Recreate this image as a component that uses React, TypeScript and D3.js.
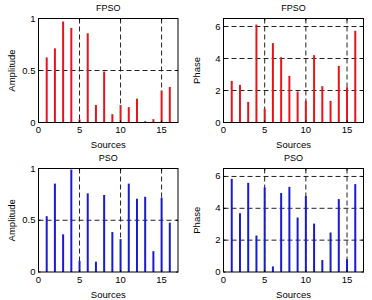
import React from "react";
import * as d3 from "d3";

const sources = [1, 2, 3, 4, 5, 6, 7, 8, 9, 10, 11, 12, 13, 14, 15, 16];
const fpsoAmplitude = [0.626, 0.713, 0.971, 0.91, 0.03, 0.858, 0.168, 0.49, 0.08, 0.168, 0.148, 0.229, 0.013, 0.032, 0.306, 0.342];
const fpsoPhase = [2.6, 2.35, 1.29, 6.12, 0.85, 4.96, 4.08, 2.92, 1.94, 1.35, 4.21, 2.27, 1.35, 3.54, 2.2, 5.73];
const psoAmplitude = [0.539, 0.854, 0.364, 0.99, 0.107, 0.76, 0.1, 0.744, 0.386, 0.318, 0.854, 0.708, 0.727, 0.201, 0.718, 0.477];
const psoPhase = [5.85, 3.69, 5.6, 2.29, 5.31, 0.35, 4.96, 5.35, 3.42, 4.77, 3.04, 0.75, 2.48, 4.58, 0.81, 5.52];

const xTicks = [0, 5, 10, 15];
const xGrid = [5, 10, 15];
const ampTicks = [0, 0.5, 1];
const ampTickLabels = ["0", "0.5", "1"];
const ampGrid = [0.5];
const phaseTicks = [0, 2, 4, 6];
const phaseTickLabels = ["0", "2", "4", "6"];
const phaseGrid = [2, 4, 6];

const FONT = "Liberation Sans, Arial, Helvetica, sans-serif";

type PanelProps = {
  x0: number; y0: number; w: number; h: number;
  title: string; ylabel: string; values: number[]; color: string;
  yMax: number; yTicks: number[]; yTickLabels: string[]; yGrid: number[];
};

function Panel(p: PanelProps) {
  const x = d3.scaleLinear().domain([0, 17]).range([p.x0, p.x0 + p.w]);
  const y = d3.scaleLinear().domain([0, p.yMax]).range([p.y0 + p.h, p.y0]);
  const tl = 2;
  return (
    <g>
      {xGrid.map((t) => (
        <line key={"gx" + t} x1={x(t)} x2={x(t)} y1={p.y0} y2={p.y0 + p.h} stroke="#222" strokeWidth={1} strokeDasharray="5,3" />
      ))}
      {p.yGrid.map((t) => (
        <line key={"gy" + t} x1={p.x0} x2={p.x0 + p.w} y1={y(t)} y2={y(t)} stroke="#222" strokeWidth={1} strokeDasharray="5,3" />
      ))}
      {p.values.map((v, i) => (
        <line key={"s" + i} x1={x(sources[i])} x2={x(sources[i])} y1={y(0)} y2={y(v)} stroke={p.color} strokeWidth={2} />
      ))}
      <rect x={p.x0} y={p.y0} width={p.w} height={p.h} fill="none" stroke="#000" strokeWidth={1} />
      {xTicks.map((t) => (
        <g key={"xt" + t}>
          <line x1={x(t)} x2={x(t)} y1={p.y0 + p.h} y2={p.y0 + p.h - tl} stroke="#000" />
          <line x1={x(t)} x2={x(t)} y1={p.y0} y2={p.y0 + tl} stroke="#000" />
          <text x={x(t)} y={p.y0 + p.h + 10.5} fontSize={9.5} fontFamily={FONT} textAnchor="middle">{t}</text>
        </g>
      ))}
      {p.yTicks.map((t, i) => (
        <g key={"yt" + t}>
          <line x1={p.x0} x2={p.x0 + tl} y1={y(t)} y2={y(t)} stroke="#000" />
          <line x1={p.x0 + p.w} x2={p.x0 + p.w - tl} y1={y(t)} y2={y(t)} stroke="#000" />
          <text x={p.x0 - 3} y={y(t) + 3} fontSize={9.5} fontFamily={FONT} textAnchor="end">{p.yTickLabels[i]}</text>
        </g>
      ))}
      <text x={p.x0 + p.w / 2} y={p.y0 - 8} fontSize={9} fontFamily={FONT} textAnchor="middle">{p.title}</text>
      <text x={p.x0 + p.w / 2} y={p.y0 + p.h + 25.5} fontSize={9.5} fontFamily={FONT} textAnchor="middle">Sources</text>
      <text transform={`translate(${p.x0 - 24},${p.y0 + p.h / 2}) rotate(-90)`} fontSize={9.5} fontFamily={FONT} textAnchor="middle">{p.ylabel}</text>
    </g>
  );
}

export default function App() {
  return (
    <div style={{ position: "fixed", left: 0, top: 0 }}>
      <svg width={372} height={300} style={{ display: "block", background: "#fff" }}>
        <Panel x0={38.5} y0={18.5} w={139.5} h={104} title="FPSO" ylabel="Amplitude" values={fpsoAmplitude} color="#e8141c" yMax={1} yTicks={ampTicks} yTickLabels={ampTickLabels} yGrid={ampGrid} />
        <Panel x0={223.5} y0={18.5} w={140} h={104} title="FPSO" ylabel="Phase" values={fpsoPhase} color="#e8141c" yMax={6.5} yTicks={phaseTicks} yTickLabels={phaseTickLabels} yGrid={phaseGrid} />
        <Panel x0={38.5} y0={168.5} w={139.5} h={103.5} title="PSO" ylabel="Amplitude" values={psoAmplitude} color="#1a1ad0" yMax={1} yTicks={ampTicks} yTickLabels={ampTickLabels} yGrid={ampGrid} />
        <Panel x0={223.5} y0={168.5} w={140} h={103.5} title="PSO" ylabel="Phase" values={psoPhase} color="#1a1ad0" yMax={6.5} yTicks={phaseTicks} yTickLabels={phaseTickLabels} yGrid={phaseGrid} />
      </svg>
    </div>
  );
}
